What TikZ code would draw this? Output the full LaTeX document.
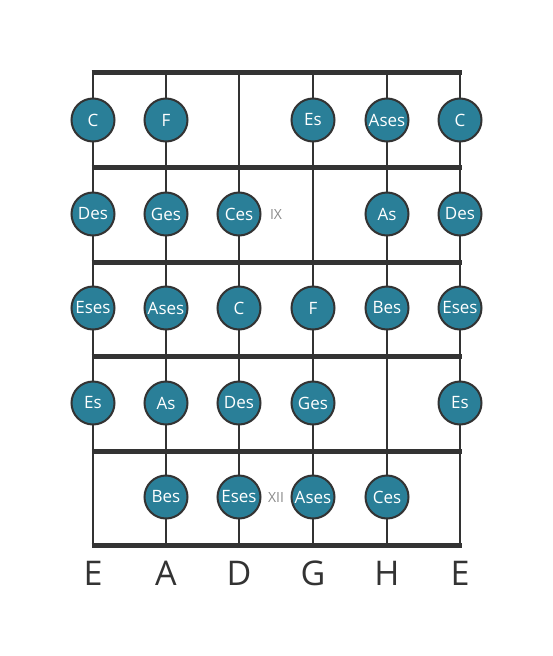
\documentclass[tikz,border=0pt]{standalone}
\usepackage{fontspec}
\setmainfont{Open Sans}
\definecolor{linegray}{HTML}{333333}
\definecolor{notefill}{HTML}{2A7F98}
\definecolor{fretnum}{HTML}{8A8A8A}

\begin{document}
\begin{tikzpicture}[x=1pt,y=-1pt,
    note/.style={circle,draw=linegray,line width=2pt,fill=notefill,text=white,
      minimum size=43pt,inner sep=0pt,font=\fontsize{17}{17}\selectfont},
    fretlabel/.style={text=fretnum,font=\fontsize{14}{14}\selectfont},
    stringname/.style={text=linegray,font=\fontsize{34}{34}\selectfont}]
    \useasboundingbox (0,0) rectangle (553,656);

    % Strings
    \foreach \s/\x in {1/93,2/166,3/239,4/313,5/387,6/460} {
      \coordinate (top\s) at (\x,72);
      \coordinate (bot\s) at (\x,545);
      \draw[linegray,line width=2pt] (top\s) -- (bot\s);
    }

    % Frets
    \foreach \f/\y in {0/72,1/167,2/262,3/356,4/451,5/545}
      \draw[linegray,line width=5pt] (91.5,\y) -- (461.5,\y);

    % Notes
    \foreach \n/\x/\y/\t in {a1/93/120/C,a2/166/120/F,a4/313/120/Es,a5/387/120/Ases,a6/460/120/C,
      b1/93/214/Des,b2/166/214/Ges,b3/239/214/Ces,b5/387/214/As,b6/460/214/Des,
      c1/93/308/Eses,c2/166/308/Ases,c3/239/308/C,c4/313/308/F,c5/387/308/Bes,c6/460/308/Eses,
      d1/93/403/Es,d2/166/403/As,d3/239/403/Des,d4/313/403/Ges,d6/460/403/Es,
      e2/166/497/Bes,e3/239/497/Eses,e4/313/497/Ases,e5/387/497/Ces}
      \node[note] (\n) at (\x,\y) {\t};

    % Fret numbers
    \node[fretlabel] (ix) at (276,214) {IX};
    \node[fretlabel] (xii) at (276,497) {XII};

    % String names
    \foreach \s/\x/\t in {1/93/E,2/166/A,3/239/D,4/313/G,5/387/H,6/460/E}
      \node[stringname] (name\s) at (\x,573) {\t};
\end{tikzpicture}
\end{document}
